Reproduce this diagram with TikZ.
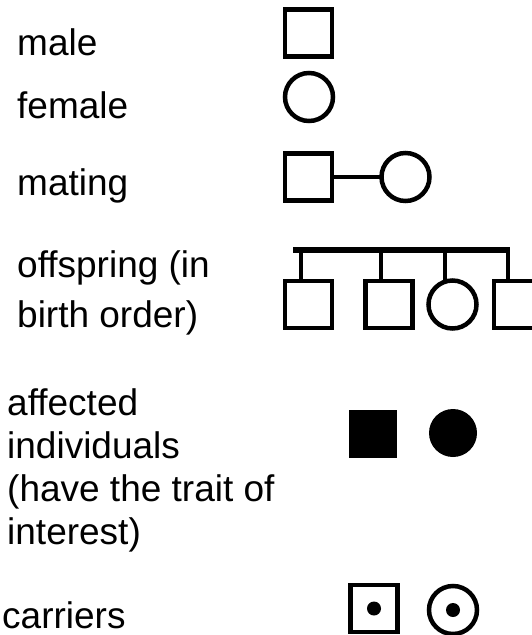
\documentclass[tikz,border=0pt]{standalone}
\usepackage{fontspec}
\setmainfont{Liberation Sans}
\usepackage{tikz}
\tikzset{
  % Specifications for style of nodes:
  base/.style = {
    draw=black,
    line width=4.5pt,
    inner sep=0pt,
    outer sep=0pt
  },
  male/.style = {
    base,
    rectangle,
    minimum size=47pt
  },
  female/.style = {
    base,
    circle,
    minimum size=48pt
  },
  affected/.style = {
    fill=black,
    draw=none,
    line width=0pt
  },
  carrierdot/.style = {
    circle,
    fill=black,
    inner sep=0pt,
    minimum size=14pt
  },
  caption/.style = {
    anchor=base west,
    align=left,
    inner sep=0pt,
    font=\fontsize{37}{43}\selectfont
  },
  tie/.style = {
    line width=4.5pt
  },
}
\begin{document}
\begin{tikzpicture}[x=1pt, y=-1pt]
    \clip (0,0) rectangle (532,635);
    % Specification of captions (base = last line)
    \node[caption] (tmale)      at (17,55)  {male};
    \node[caption] (tfemale)    at (17,118) {female};
    \node[caption] (tmating)    at (17,195) {mating};
    \node[caption, font=\fontsize{37}{50}\selectfont] (toffspring) at (17,327)
      {offspring (in\\birth order)};
    \node[caption] (taffected)  at (7,544)
      {affected\\individuals\\(have the trait of\\interest)};
    \node[caption] (tcarrier)   at (2,628)  {carriers};
    % Specification of symbols
    \node[male]   (male)    at (308.5,33)  {};
    \node[female] (female)  at (309,97)    {};
    \node[male]   (matem)   at (308.5,177) {};
    \node[female] (matef)   at (405.5,177) {};
    \draw[tie] (matem.east) -- (matef.west);
    % offspring
    \node[male]   (kid1) at (308.5,304.5) {};
    \node[male]   (kid2) at (389,304.5)   {};
    \node[female] (kid3) at (452.5,304.5) {};
    \node[male]   (kid4) at (517.5,304.5) {};
    \coordinate (barL) at (293,250);
    \coordinate (barR) at (510,250);
    \draw[tie, line width=6pt] (barL) -- (barR);
    \coordinate (d1) at (301,250);
    \coordinate (d2) at (381,250);
    \coordinate (d3) at (445,250);
    \coordinate (d4) at (508,250);
    \foreach \i in {1,...,4}
      \draw[tie] (d\i) -- (d\i |- kid\i.north);
    % affected
    \node[male, affected, minimum size=48pt]   (affm) at (373,433.5) {};
    \node[female, affected, minimum size=48pt] (afff) at (453,433)   {};
    % carriers
    \node[male]   (carm) at (374,608.5) {};
    \node[female] (carf) at (453,610)   {};
    \node[carrierdot] (carmdot) at (carm.center) {};
    \node[carrierdot] (carfdot) at (carf.center) {};
\end{tikzpicture}
\end{document}
